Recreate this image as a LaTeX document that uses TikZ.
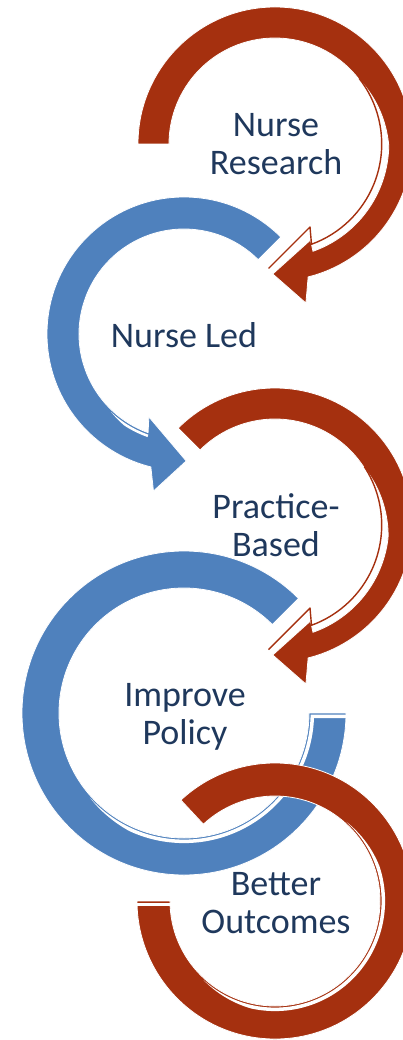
\documentclass[tikz,border=0pt]{standalone}
\usepackage{fontspec}
\setmainfont{Carlito}
\usetikzlibrary{calc}
\definecolor{arrowred}{RGB}{165,48,15}
\definecolor{arrowblue}{RGB}{79,129,189}
\definecolor{labelnavy}{RGB}{31,56,92}
\begin{document}
\begin{tikzpicture}[x=1pt,y=1pt,
  lbl/.style={text=labelnavy,font=\fontsize{36}{38.5}\selectfont,align=center,inner sep=0pt},
  redring/.style={fill=arrowred,draw=white,line width=0.8pt,line join=miter},
  bluering/.style={fill=arrowblue,draw=white,line width=0.8pt,line join=miter},
  redsliver/.style={draw=arrowred,line width=1.4pt,line join=round},
  sheen/.style={fill=white,draw=none}]
\useasboundingbox (0,0) rectangle (403,-1040);
\clip (0,0) rectangle (403,-1040);

% circle 1 : Nurse Research
\begin{scope}[shift={(275,-144)}]
  \path[redring] (180:137pt) arc[start angle=180,end angle=-76,radius=137pt]
    -- (-79:162pt) -- (-91:130pt) -- (35.5,-96) -- (-70.5:113.8)
    -- plot[domain=-70.5:38,samples=60] (\x:{106+min(7.8,(38-(\x))*0.2)})
    arc[start angle=38,end angle=180,radius=106pt] -- cycle;
  \path[redsliver] (38:106.7pt) arc[start angle=38,end angle=-70,radius=106.7pt]
    -- (35,-83) -- (-6.5,-124.5);
\end{scope}

% circle 2 : Nurse Led
\begin{scope}[shift={(184,-334)},xscale=-1]
  \path[bluering] (135:137pt) arc[start angle=135,end angle=-76,radius=137pt]
    -- (-79:160pt) -- (-91:127pt) -- (-67:90pt) -- (-70:105pt)
    arc[start angle=-70,end angle=135,radius=105pt] -- cycle;
  \path[sheen] plot[domain=-47:-70.5,samples=30] (\x:106.8)
    -- plot[domain=-70.5:-47,samples=30] (\x:{106.8+min(2.5,((\x)+47)*(-0.25))}) -- cycle;
\end{scope}

% circle 3 : Practice-Based
\begin{scope}[shift={(275,-525)}]
  \path[redring] (135:137pt) arc[start angle=135,end angle=-76,radius=137pt]
    -- (-79:162pt) -- (-91:130pt) -- (35.5,-96) -- (-70.5:113.8)
    -- plot[domain=-70.5:33,samples=60] (\x:{106+min(7.8,(33-(\x))*0.2)})
    arc[start angle=33,end angle=135,radius=106pt] -- cycle;
  \path[redsliver] (33:106.7pt) arc[start angle=33,end angle=-70,radius=106.7pt]
    -- (35,-83) -- (-6.5,-124.5);
\end{scope}

% circle 4 : Improve Policy
\begin{scope}[shift={(184,-713)}]
  \path[bluering] (45:162pt) arc[start angle=45,end angle=360,radius=162pt]
    -- (0:125pt) arc[start angle=360,end angle=45,radius=125pt] -- cycle;
  \path[sheen] plot[domain=222:358.5,samples=80] (\x:126.6)
    -- (126.6,-1.6) -- (170,-1.6) -- (170,-5) -- (130,-5)
    -- plot[domain=357:222,samples=80] (\x:{126.6+min(3.5,((\x)-222)*0.15)}) -- cycle;
\end{scope}

% circle 5 : Better Outcomes
\begin{scope}[shift={(275,-901)}]
  \path[redring] (133:138pt) arc[start angle=133,end angle=-180,radius=138pt]
    -- (180:105pt) arc[start angle=-180,end angle=133,radius=105pt] -- cycle;
  \path[sheen] plot[domain=48:-132,samples=80] (\x:106.6)
    -- plot[domain=-132:48,samples=80] (\x:{106.6+min(3.5,(48-(\x))*0.12,((\x)+132)*0.12)}) -- cycle;
  \path[sheen] (-104,-1.6) rectangle (-145,-4.6);
\end{scope}

\node[lbl] (t1) at (276,-144) {Nurse\\Research};
\node[lbl] (t2) at (184,-335) {Nurse Led};
\node[lbl] (t3) at (276,-525) {Practice-\\Based};
\node[lbl] (t4) at (185,-717) {Improve\\Policy};
\node[lbl] (t5) at (276,-903) {Better\\Outcomes};
\end{tikzpicture}
\end{document}
